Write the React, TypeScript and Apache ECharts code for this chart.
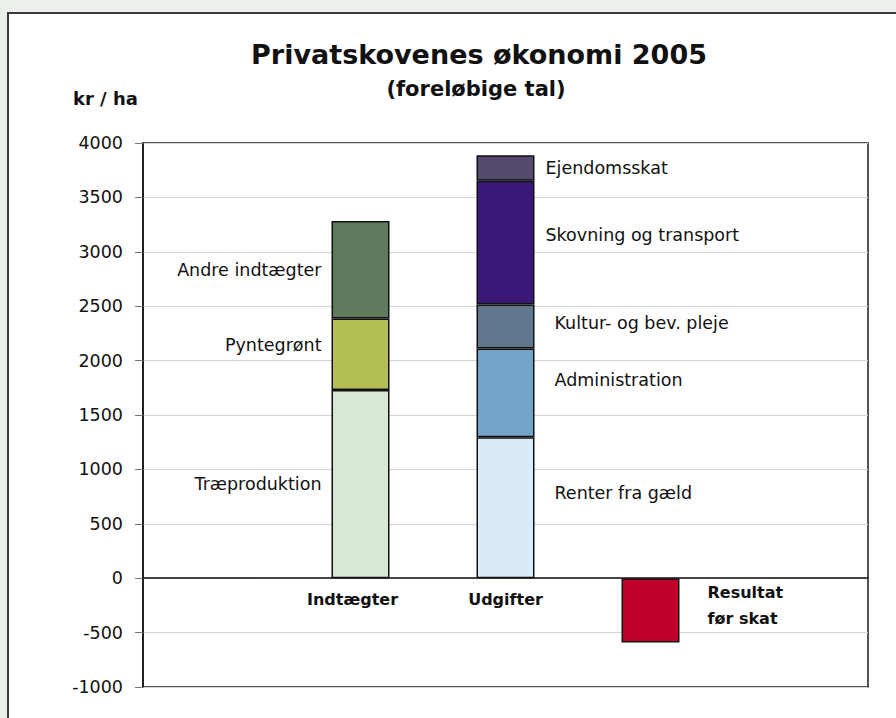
import React, { useEffect, useRef } from "react";
import * as echarts from "echarts";

// ---- data ----
const categories = ["", "Indtægter", "Udgifter", "", ""];
const incomeNames = ["Træproduktion", "Pyntegrønt", "Andre indtægter"];
const incomeValues = [1730, 657, 896];
const expenseNames = [
  "Renter fra gæld",
  "Administration",
  "Kultur- og bev. pleje",
  "Skovning og transport",
  "Ejendomsskat",
];
const expenseValues = [1296, 815, 404, 1137, 236];
const resultName = "Resultat før skat";
const resultValue = -590;
const yMin = -1000;
const yMax = 4000;
const yStep = 500;
const titleText = "Privatskovenes økonomi 2005";
const subtitleText = "(foreløbige tal)";
const unitText = "kr / ha";

// ---- styles ----
const incomeColors = ["#d9e7d5", "#b3bf55", "#5e7a5c"];
const expenseColors = ["#d9eaf8", "#73a4c8", "#60778d", "#3a1878", "#564a6c"];
const resultColor = "#c0002a";
const incomeLabelOffsetY = [0, -9, 0];
const expenseLabelOffsetY = [-15, -13, -4, -8, 0];
const expenseLabelDistance = [20, 20, 20, 11, 11];
const categoryLabelPadRight = [0, 16, 0, 0, 0];
const FONT = "DejaVu Sans";

export default function App() {
  const ref = useRef<HTMLDivElement>(null);
  useEffect(() => {
    if (!ref.current) return;
    const chart = echarts.init(ref.current, undefined, { renderer: "svg" });
    const baseItem = { borderColor: "#111", borderWidth: 1.5 };
    const labelBase = {
      show: true,
      fontFamily: FONT,
      fontSize: 17.5,
      color: "#111",
      formatter: "{a}",
    };
    const series: any[] = [];
    incomeNames.forEach((name, i) => {
      series.push({
        type: "bar",
        name,
        stack: "total",
        barWidth: 58,
        data: categories.map((_, k) => (k === 1 ? incomeValues[i] : null)),
        itemStyle: { ...baseItem, color: incomeColors[i] },
        label: {
          ...labelBase,
          position: "left",
          distance: 10,
          offset: [0, incomeLabelOffsetY[i]],
        },
      });
    });
    expenseNames.forEach((name, i) => {
      series.push({
        type: "bar",
        name,
        stack: "total",
        barWidth: 58,
        data: categories.map((_, k) => (k === 2 ? expenseValues[i] : null)),
        itemStyle: { ...baseItem, color: expenseColors[i] },
        label: {
          ...labelBase,
          position: "right",
          distance: expenseLabelDistance[i],
          offset: [0, expenseLabelOffsetY[i]],
        },
      });
    });
    series.push({
      type: "bar",
      name: resultName,
      stack: "total",
      barWidth: 60,
      data: categories.map((_, k) => (k === 3 ? resultValue : null)),
      itemStyle: { ...baseItem, color: resultColor },
      label: {
        show: true,
        position: "right",
        distance: 28,
        offset: [0, -5],
        fontFamily: FONT,
        fontSize: 16,
        fontWeight: "bold",
        color: "#111",
        lineHeight: 26,
        align: "left",
        formatter: "Resultat\nfør skat",
      },
    });

    chart.setOption({
      animation: false,
      backgroundColor: "#ebf1ea",
      graphic: [
        {
          type: "rect",
          z: -100,
          shape: { x: 8, y: 13, width: 900, height: 720 },
          style: { fill: "#ffffff", stroke: "#3a3a3a", lineWidth: 2 },
        },
        {
          type: "text",
          z: 100,
          x: 479,
          y: 54,
          style: {
            text: titleText,
            font: `bold 27px "${FONT}"`,
            fill: "#111",
            align: "center",
            verticalAlign: "middle",
            textAlign: "center",
            textVerticalAlign: "middle",
          },
        },
        {
          type: "text",
          z: 100,
          x: 476,
          y: 89,
          style: {
            text: subtitleText,
            font: `bold 21px "${FONT}"`,
            fill: "#111",
            align: "center",
            verticalAlign: "middle",
            textAlign: "center",
            textVerticalAlign: "middle",
          },
        },
        {
          type: "text",
          z: 100,
          x: 73,
          y: 98,
          style: {
            text: unitText,
            font: `bold 18px "${FONT}"`,
            fill: "#111",
            align: "left",
            verticalAlign: "middle",
            textAlign: "left",
            textVerticalAlign: "middle",
          },
        },
      ],
      grid: {
        left: 143,
        top: 143,
        right: 28,
        bottom: 31,
        show: true,
        backgroundColor: "#ffffff",
        borderColor: "#1a1a1a",
        borderWidth: 1.5,
        containLabel: false,
      },
      xAxis: {
        type: "category",
        data: categories.map((c, k) => ({
          value: c,
          textStyle: { padding: [0, categoryLabelPadRight[k], 0, 0] },
        })),
        axisLine: { onZero: true, lineStyle: { color: "#111", width: 1.5 } },
        axisTick: { show: false },
        axisLabel: {
          interval: 0,
          margin: -96,
          fontFamily: FONT,
          fontSize: 16,
          fontWeight: "bold",
          color: "#111",
        },
        splitLine: { show: false },
      },
      yAxis: {
        type: "value",
        min: yMin,
        max: yMax,
        interval: yStep,
        axisLine: { show: true, lineStyle: { color: "#111", width: 1.5 } },
        axisTick: { show: true, length: 8, lineStyle: { color: "#777" } },
        axisLabel: {
          margin: 20,
          fontFamily: FONT,
          fontSize: 17.5,
          color: "#111",
          formatter: (v: number) => String(v),
        },
        splitLine: { show: true, lineStyle: { color: "#d4d4d4", width: 1 } },
      },
      series,
    });
    return () => chart.dispose();
  }, []);
  return (
    <div
      ref={ref}
      style={{ position: "fixed", left: 0, top: 0, width: 896, height: 718 }}
    />
  );
}
